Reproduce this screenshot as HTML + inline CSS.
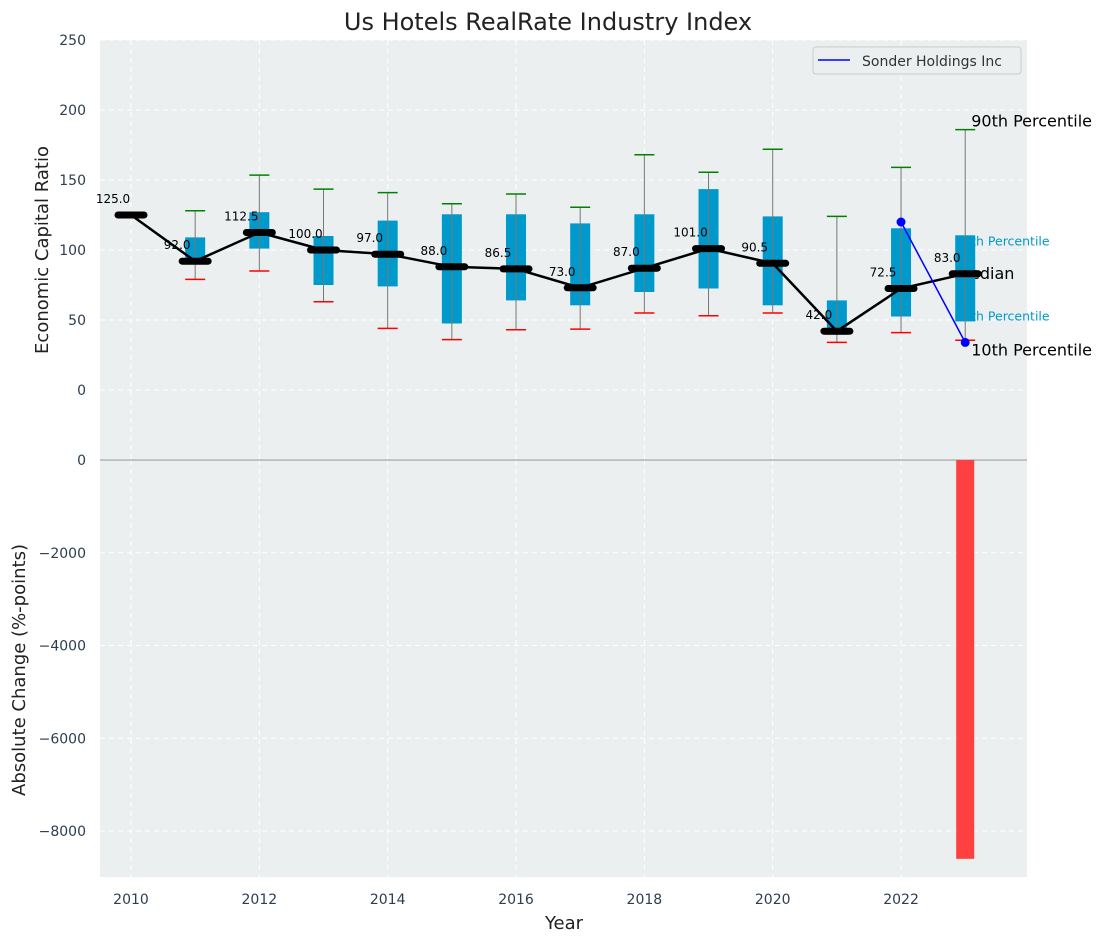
<!DOCTYPE html>
<html><head><meta charset="utf-8"><style>
body{margin:0;background:#fff}
svg text{font-family:"DejaVu Sans","Liberation Sans",sans-serif}
</style></head><body>
<svg id="c" width="1107" height="942" xmlns="http://www.w3.org/2000/svg"></svg>
<script>
const years=[2010,2011,2012,2013,2014,2015,2016,2017,2018,2019,2020,2021,2022,2023];
const medians=[125,92,112.5,100,97,88,86.5,73,87,101,90.5,42,72.5,83];
const q1=[null,90,101,75,74,47.5,64,60.5,70,72.5,60.5,39.5,52.5,49];
const q3=[null,109,127,110,121,125.5,125.5,119,125.5,143.5,124,64,115.5,110.5];
const p10=[null,79,85,63,44,36,43,43.5,55,53,55,34,41,35.5];
const p90=[null,128,153.5,143.5,141,133,140,130.5,168,155.5,172,124,159,186];
const sonderYears=[2022,2023];
const sonderVals=[120,34];
const changeYears=[2023];
const changeVals=[-8600];
const topTicks=[0,50,100,150,200,250];
const botTicks=[0,-2000,-4000,-6000,-8000];
const xTicks=[2010,2012,2014,2016,2018,2020,2022];

const svg=document.getElementById('c');const NS='http://www.w3.org/2000/svg';
function el(t,a,p){const e=document.createElementNS(NS,t);for(const k in a)e.setAttribute(k,a[k]);(p||svg).appendChild(e);return e;}
const X=y=>131+(y-2010)*64.17;
const Yt=v=>390-v*1.4;
const Yb=v=>460-v*0.046375;
const L=100,R=1027;

let bg1=el('rect',{x:L,y:40,width:R-L,height:419,fill:'#ebeff0'});


let bg2=el('rect',{x:L,y:460,width:R-L,height:417,fill:'#ebeff0'});



xTicks.forEach(t=>{
  el('line',{x1:X(t),x2:X(t),y1:40,y2:459,stroke:'#fff','stroke-dasharray':'5,4','stroke-width':1});
  el('line',{x1:X(t),x2:X(t),y1:460,y2:877,stroke:'#fff','stroke-dasharray':'5,4','stroke-width':1});
  let tx=el('text',{x:X(t),y:904,'font-size':14,fill:'#2c3e50','text-anchor':'middle'});tx.textContent=t;
  
  
});
topTicks.forEach(t=>{
  el('line',{x1:L,x2:R,y1:Yt(t),y2:Yt(t),stroke:'#fff','stroke-dasharray':'5,4'});
  let tx=el('text',{x:86,y:Yt(t)+5,'font-size':14,fill:'#2c3e50','text-anchor':'end'});tx.textContent=t;
  
  
});
botTicks.forEach(t=>{
  if(t!==0)el('line',{x1:L,x2:R,y1:Yb(t),y2:Yb(t),stroke:'#fff','stroke-dasharray':'5,4'});
  let tx=el('text',{x:86,y:Yb(t)+5,'font-size':14,fill:'#2c3e50','text-anchor':'end'});tx.textContent=t===0?'0':'\u2212'+Math.abs(t);
  
  
});
el('line',{x1:L,x2:R,y1:460,y2:460,stroke:'#b0b0b0','stroke-width':1.5});

const ly=years[years.length-1],li=years.length-1,ax=X(ly)+6;
[['90th Percentile',p90[li],16,'#000',-3],['75th Percentile',q3[li],12.5,'#0099cc',10],['Median',medians[li],16,'#000',5],['25th Percentile',q1[li],12.5,'#0099cc',-1],['10th Percentile',p10[li],16,'#000',15]].forEach(a=>{
  let tx=el('text',{x:a[0].startsWith('Med')?X(ly)-9:(a[2]>13?ax:X(ly)-10),y:Yt(a[1])+a[4],'font-size':a[2],fill:a[3]});
  tx.textContent=a[0];
  
  
});

years.forEach((y,i)=>{
  const x=X(y);
  if(q1[i]!=null){
    let b=el('rect',{x:x-10,y:Yt(q3[i]),width:20,height:Yt(q1[i])-Yt(q3[i]),fill:'#0099cc'});
    
    
  }
  if(p10[i]!=null){
    el('line',{x1:x,x2:x,y1:Yt(p90[i]),y2:Yt(p10[i]),stroke:'#777','stroke-width':1});
    let c1=el('line',{x1:x-10,x2:x+10,y1:Yt(p90[i]),y2:Yt(p90[i]),stroke:'green','stroke-width':1.5});
    
    
    let c2=el('line',{x1:x-10,x2:x+10,y1:Yt(p10[i]),y2:Yt(p10[i]),stroke:'red','stroke-width':1.5});
    
    
  }
});
let pl=el('polyline',{points:years.map((y,i)=>X(y)+','+Yt(medians[i])).join(' '),fill:'none',stroke:'#000','stroke-width':2.5});


years.forEach((y,i)=>{
  const x=X(y),yy=Yt(medians[i]);
  let m=el('line',{x1:x-13,x2:x+13,y1:yy,y2:yy,stroke:'#000','stroke-width':7,'stroke-linecap':'round'});
  
  
  let t=el('text',{x:x-18,y:yy-12,'font-size':12,fill:'#000','text-anchor':'middle'});t.textContent=medians[i].toFixed(1);
  
  
});
let sl=el('polyline',{points:sonderYears.map((y,i)=>X(y)+','+Yt(sonderVals[i])).join(' '),fill:'none',stroke:'blue','stroke-width':1.5});


sonderYears.forEach((y,i)=>{
  let c=el('circle',{cx:X(y),cy:Yt(sonderVals[i]),r:4.5,fill:'blue'});
  
  
});
changeYears.forEach((y,i)=>{
  const v=changeVals[i];
  let b=el('rect',{x:X(y)-9,y:Math.min(Yb(0),Yb(v)),width:18,height:Math.abs(Yb(v)-Yb(0)),fill:'#ff4040'});
  
  
});
let lg=el('g',{});


el('rect',{x:813,y:47,width:208,height:27,rx:3,fill:'#ebeff0',stroke:'#ccc'},lg);
el('line',{x1:818,x2:850,y1:60,y2:60,stroke:'blue','stroke-width':1.5},lg);
let lt=el('text',{x:862,y:66,'font-size':14,fill:'#333'},lg);lt.textContent='Sonder Holdings Inc';
let tt=el('text',{x:548,y:30,'font-size':24,fill:'#222','text-anchor':'middle'});tt.textContent='Us Hotels RealRate Industry Index';


let xt=el('text',{x:564,y:929,'font-size':18,fill:'#222','text-anchor':'middle'});xt.textContent='Year';


let y1=el('text',{x:0,y:0,'font-size':18,fill:'#222','text-anchor':'middle',transform:'translate(48,250) rotate(-90)'});y1.textContent='Economic Capital Ratio';


let y2=el('text',{x:0,y:0,'font-size':18,fill:'#222','text-anchor':'middle',transform:'translate(25,670) rotate(-90)'});y2.textContent='Absolute Change (%-points)';


</script>
</body></html>
